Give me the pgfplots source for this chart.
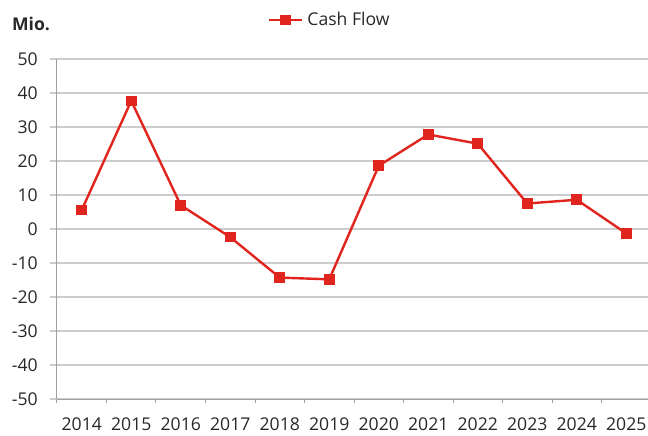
\documentclass[border=0pt]{standalone}
\usepackage{fontspec}
\setmainfont{Open Sans}
\usepackage{pgfplots}
\pgfplotsset{compat=1.18}
\definecolor{cfred}{RGB}{224,36,30}
\definecolor{gridgray}{RGB}{205,205,205}
\definecolor{axisgray}{RGB}{160,160,160}
\definecolor{txt}{RGB}{40,40,40}
\begin{document}
\begin{tikzpicture}[font=\fontsize{8.8}{10.5}\selectfont, text=txt]
\begin{axis}[
  scale only axis, width=297pt, height=170pt,
  xmin=-0.5, xmax=11.5, ymin=-50, ymax=50,
  xtick={0,...,11},
  xticklabels={2014,2015,2016,2017,2018,2019,2020,2021,2022,2023,2024,2025},
  minor xtick={-0.5,0.5,...,11.5},
  ytick={-50,-40,...,50},
  /pgf/number format/assume math mode=true,
  tick align=outside,
  major tick length=3.5pt,
  minor tick length=2pt,
  x tick style={draw=none},
  minor x tick style={draw=axisgray, line width=0.5pt},
  y tick style={draw=gridgray, line width=0.6pt},
  ymajorgrids, major grid style={gridgray, line width=0.6pt},
  axis x line*=bottom, axis y line*=left,
  axis line style={axisgray, line width=0.5pt, -},
  xticklabel style={yshift=-2.5pt},
  yticklabel style={xshift=-2.6pt},
  legend style={at={(0.461,1.0)}, anchor=center, yshift=19.5pt, draw=none, fill=none,
    font=\fontsize{8.8}{10.5}\selectfont, inner sep=0pt, text=txt},
  legend cell align=left,
  legend image post style={line width=1.2pt},
  legend image code/.code={
    \draw[#1] (0cm,0cm) -- (0.58cm,0cm);
    \draw[#1, only marks] plot coordinates {(0.29cm,0cm)};
  },
  clip=false,
]
\addplot[color=cfred, line width=1.2pt, mark=square*, mark size=2.4pt,
  mark options={fill=cfred, draw=cfred, line width=0.5pt}] coordinates {
  (0,5.6) (1,37.7) (2,7.0) (3,-2.4) (4,-14.3) (5,-14.8)
  (6,18.6) (7,27.8) (8,25.1) (9,7.5) (10,8.6) (11,-1.3)
};
\addlegendentry{Cash Flow}
\node[font=\fontsize{8.8}{10.5}\selectfont\bfseries, anchor=center, text=txt]
  at ([xshift=-13pt, yshift=17.5pt]rel axis cs:0,1) {Mio.};
\coordinate (bbTL) at ([xshift=-28.5pt, yshift=29.5pt]rel axis cs:0,1);
\coordinate (bbBR) at ([xshift=-1.5pt, yshift=-18pt]rel axis cs:1,0);
\end{axis}
\pgfresetboundingbox
\path (bbTL) rectangle (bbBR);
\end{tikzpicture}
\end{document}
